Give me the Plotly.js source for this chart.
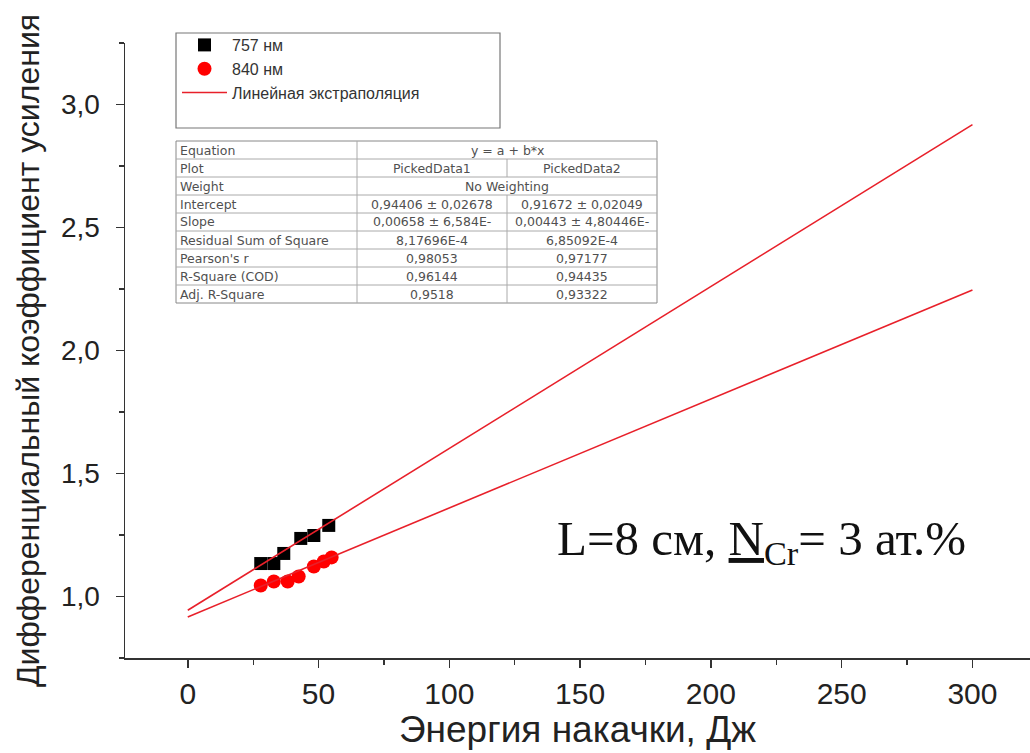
<!DOCTYPE html>
<html><head><meta charset="utf-8">
<script src="https://cdn.plot.ly/plotly-3.0.1.min.js"></script>
<style>html,body{margin:0;padding:0;background:#fff}</style>
</head><body><div id="chart" style="width:1030px;height:753px"></div>
<script>
// ---- data ----
const x757 = [27.9, 32.9, 36.7, 43.2, 48.2, 53.9];
const y757 = [1.134, 1.134, 1.175, 1.236, 1.248, 1.289];
const x840 = [27.9, 32.9, 38.2, 42.4, 48.2, 52.0, 55.0];
const y840 = [1.045, 1.061, 1.061, 1.081, 1.122, 1.142, 1.159];
const fitX = [0, 300];
const fit757 = [0.944, 2.918];
const fit840 = [0.917, 2.246];
const legendNames = ["757 нм", "840 нм", "Линейная экстраполяция"];
const tableRowLabels = ["Equation","Plot","Weight","Intercept","Slope","Residual Sum of Square","Pearson's r","R-Square (COD)","Adj. R-Square"];
const tableCol1 = ["y = a + b*x","PickedData1","No Weighting","0,94406 ± 0,02678","0,00658 ± 6,584E-","8,17696E-4","0,98053","0,96144","0,9518"];
const tableCol2 = [null,"PickedData2",null,"0,91672 ± 0,02049","0,00443 ± 4,80446E-","6,85092E-4","0,97177","0,94435","0,93322"];
const noteText = 'L=8 см, <span style="text-decoration:underline">N</span><sub>Cr</sub>= 3 ат.%';
const xTitle = "Энергия накачки, Дж";
const yTitle = "Дифференциальный коэффициент усиления";

// ---- layout helpers (pixel -> paper) ----
const W = 1030, H = 753, ML = 125, MR = 0, MT = 43, MB = 95;
const PW = W - ML - MR, PH = H - MT - MB;
const px = v => (v - ML) / PW;
const py = v => (H - MB - v) / PH;

const red = '#e8202a';
const traces = [
  {x: x757, y: y757, type: 'scatter', mode: 'markers', name: legendNames[0],
   marker: {symbol: 'square', size: 13, color: '#000'}},
  {x: x840, y: y840, type: 'scatter', mode: 'markers', name: legendNames[1],
   marker: {symbol: 'circle', size: 14, color: '#ff0000'}},
  {x: fitX, y: fit757, type: 'scatter', mode: 'lines', name: legendNames[2],
   line: {color: red, width: 1.6}},
  {x: fitX, y: fit840, type: 'scatter', mode: 'lines', name: legendNames[2],
   line: {color: red, width: 1.6}, showlegend: false}
];

const shapes = [];
const annotations = [];
// legend box
shapes.push({type: 'rect', xref: 'paper', yref: 'paper', x0: px(176), x1: px(500), y0: py(128), y1: py(33),
  line: {color: '#777', width: 1.2}, fillcolor: 'rgba(0,0,0,0)'});
// table
const tL = 176, tR = 657, tT = 141, rowH = 18, c1 = 357, c2 = 507;
const nRows = tableRowLabels.length;
const tB = tT + rowH * nRows;
shapes.push({type: 'rect', xref: 'paper', yref: 'paper', x0: px(tL), x1: px(tR), y0: py(tB), y1: py(tT),
  line: {color: '#888', width: 1}, fillcolor: '#fff'});
for (let i = 1; i < nRows; i++) {
  shapes.push({type: 'line', xref: 'paper', yref: 'paper', x0: px(tL), x1: px(tR), y0: py(tT + i * rowH), y1: py(tT + i * rowH),
    line: {color: '#aaa', width: 1}});
}
shapes.push({type: 'line', xref: 'paper', yref: 'paper', x0: px(c1), x1: px(c1), y0: py(tT), y1: py(tB), line: {color: '#aaa', width: 1}});
for (let i = 0; i < nRows; i++) {
  const yc = py(tT + i * rowH + rowH / 2);
  const f = {family: 'DejaVu Sans, sans-serif', size: 12.5, color: '#505050'};
  annotations.push({xref: 'paper', yref: 'paper', x: px(tL + 2), y: yc, xanchor: 'left', yanchor: 'middle',
    text: tableRowLabels[i], showarrow: false, font: f});
  if (tableCol2[i] === null) {
    annotations.push({xref: 'paper', yref: 'paper', x: px((c1 + tR) / 2), y: yc, xanchor: 'center', yanchor: 'middle',
      text: tableCol1[i], showarrow: false, font: f});
  } else {
    shapes.push({type: 'line', xref: 'paper', yref: 'paper', x0: px(c2), x1: px(c2), y0: py(tT + i * rowH), y1: py(tT + (i + 1) * rowH), line: {color: '#aaa', width: 1}});
    annotations.push({xref: 'paper', yref: 'paper', x: px((c1 + c2) / 2), y: yc, xanchor: 'center', yanchor: 'middle',
      text: tableCol1[i], showarrow: false, font: f});
    annotations.push({xref: 'paper', yref: 'paper', x: px((c2 + tR) / 2), y: yc, xanchor: 'center', yanchor: 'middle',
      text: tableCol2[i], showarrow: false, font: f});
  }
}
// note
annotations.push({xref: 'paper', yref: 'paper', x: px(761), y: py(541), xanchor: 'center', yanchor: 'middle',
  text: noteText, showarrow: false, font: {family: 'Liberation Serif, Times New Roman, serif', size: 49, color: '#111'}});

const layout = {
  width: W, height: H,
  margin: {l: ML, r: MR, t: MT, b: MB, pad: 0},
  paper_bgcolor: '#fff', plot_bgcolor: '#fff',
  separators: ', ',
  showlegend: true,
  legend: {x: px(177), y: py(28), xanchor: 'left', yanchor: 'top', bgcolor: 'rgba(0,0,0,0)', borderwidth: 0,
    font: {family: 'Liberation Sans, Arial, sans-serif', size: 16, color: '#333'}, itemwidth: 45, tracegroupgap: 0},
  xaxis: {
    range: [-24, 322], showgrid: false, zeroline: false, showline: true, linecolor: '#333', linewidth: 1.5,
    ticks: 'outside', ticklen: 8, tickwidth: 1.5, tickcolor: '#333', dtick: 50, tick0: 0,
    minor: {dtick: 25, ticks: 'outside', ticklen: 5, tickwidth: 1.2, tickcolor: '#333', showgrid: false},
    tickfont: {family: 'Liberation Sans Narrow, Arial Narrow, sans-serif', size: 30, color: '#222'},
    title: {text: xTitle, standoff: 6, font: {family: 'Liberation Sans, Arial, sans-serif', size: 37, color: '#222'}}
  },
  yaxis: {
    range: [0.75, 3.25], showgrid: false, zeroline: false, showline: true, linecolor: '#333', linewidth: 1.5,
    ticks: 'outside', ticklen: 8, tickwidth: 1.5, tickcolor: '#333', dtick: 0.5, tick0: 0, tickformat: '.1f',
    ticklabelstandoff: 10,
    minor: {dtick: 0.25, ticks: 'outside', ticklen: 5, tickwidth: 1.2, tickcolor: '#333', showgrid: false},
    tickfont: {family: 'Liberation Sans, Arial, sans-serif', size: 28, color: '#222'},
    title: {text: yTitle, standoff: 12, font: {family: 'Liberation Sans, Arial, sans-serif', size: 32, color: '#222'}}
  },
  shapes: shapes,
  annotations: annotations
};
Plotly.newPlot('chart', traces, layout, {displayModeBar: false, staticPlot: true});
</script></body></html>
